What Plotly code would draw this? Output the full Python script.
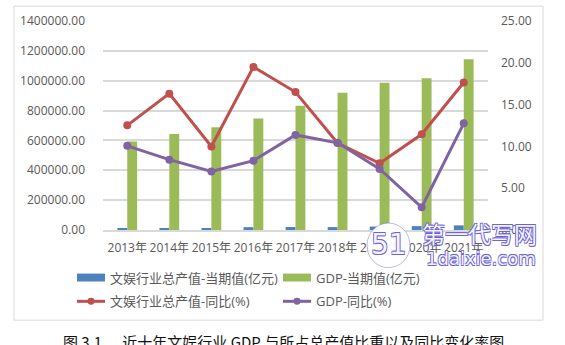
import plotly.graph_objects as go

# Annual figures, 2013-2021
years = ["2013", "2014", "2015", "2016", "2017", "2018", "2019", "2020", "2021"]
year_labels = [y + "年" for y in years]
ent_output = [11600, 12500, 13400, 19000, 20000, 19500, 23000, 26000, 31000]          # 文娱行业总产值 (亿元)
gdp_output = [592963, 643563, 688858, 746395, 832036, 919281, 986515, 1015986, 1143670]  # GDP (亿元)
ent_yoy = [12.52, 16.31, 9.99, 19.51, 16.50, 10.40, 7.98, 11.45, 17.65]                 # 同比 (%)
gdp_yoy = [10.07, 8.41, 6.99, 8.29, 11.37, 10.43, 7.31, 2.72, 12.76]                  # 同比 (%)

names = ["文娱行业总产值-当期值(亿元)", "GDP-当期值(亿元)",
         "文娱行业总产值-同比(%)", "GDP-同比(%)"]
colors = ["#4F81BD", "#9BBB59", "#C0504D", "#8064A2"]

W, H = 565, 345
L, R, T, B = 103, 488, 19, 230  # plot area in pixels


def px(x):
    return (x - L) / (R - L)


def py(y):
    return 1 - (y - T) / (B - T)


FONT = "Open Sans, Noto Sans CJK SC, sans-serif"
GREY = "#595959"

fig = go.Figure()
fig.add_trace(go.Bar(x=year_labels, y=ent_output, name=names[0],
                     marker=dict(color=colors[0], line_width=0)))
fig.add_trace(go.Bar(x=year_labels, y=gdp_output, name=names[1],
                     marker=dict(color=colors[1], line_width=0)))
fig.add_trace(go.Scatter(x=year_labels, y=ent_yoy, name=names[2], yaxis="y2",
                         mode="lines+markers", cliponaxis=False,
                         line=dict(color=colors[2], width=3),
                         marker=dict(color=colors[2], size=8)))
fig.add_trace(go.Scatter(x=year_labels, y=gdp_yoy, name=names[3], yaxis="y2",
                         mode="lines+markers", cliponaxis=False,
                         line=dict(color=colors[3], width=3),
                         marker=dict(color=colors[3], size=8)))

shapes = []
annotations = []

# outer chart frame
shapes.append(dict(type="rect", xref="paper", yref="paper",
                   x0=px(14), x1=px(543), y0=py(321), y1=py(4),
                   line=dict(color="#D9D9D9", width=1), layer="below"))

# legend, two columns by two rows
legend_pos = [(77, 278), (283, 278), (77, 302), (283, 302)]
for i, (lx, ly) in enumerate(legend_pos):
    if i < 2:
        shapes.append(dict(type="rect", xref="paper", yref="paper",
                           x0=px(lx), x1=px(lx + 28), y0=py(ly + 4), y1=py(ly - 4),
                           fillcolor=colors[i], line_width=0))
    else:
        shapes.append(dict(type="line", xref="paper", yref="paper",
                           x0=px(lx), x1=px(lx + 28), y0=py(ly), y1=py(ly),
                           line=dict(color=colors[i], width=3)))
        shapes.append(dict(type="circle", xref="paper", yref="paper",
                           x0=px(lx + 10.5), x1=px(lx + 17.5),
                           y0=py(ly + 3.5), y1=py(ly - 3.5),
                           fillcolor=colors[i], line_width=0))
    annotations.append(dict(text=names[i], xref="paper", yref="paper",
                            x=px(lx + 31), y=py(ly), xanchor="left", yanchor="middle",
                            showarrow=False, font=dict(family=FONT, size=13, color=GREY)))

# caption below the chart frame
annotations.append(dict(text="图 3.1      近十年文娱行业 GDP 与所占总产值比重以及同比变化率图",
                        xref="paper", yref="paper", x=px(283), y=py(330),
                        xanchor="center", yanchor="top", showarrow=False,
                        font=dict(family="Noto Sans CJK SC, serif", size=15, color="#111111")))

# site watermark (hollow outlined lettering)
WM = "#6B63D6"
d = "0.7px"
outline = ", ".join("%s%s %s%s 0 %s" % (sx, d, sy, d, WM)
                    for sx in ("-", "") for sy in ("-", ""))
FILL = "#F4F3FF"
shapes.append(dict(type="circle", xref="paper", yref="paper",
                   x0=px(367), x1=px(410), y0=py(268), y1=py(223),
                   fillcolor="rgba(255,255,255,0.95)",
                   line=dict(color="rgba(107,99,214,0.45)", width=1)))
annotations.append(dict(text="51", xref="paper", yref="paper",
                        x=px(389), y=py(245), xanchor="center", yanchor="middle",
                        showarrow=False,
                        font=dict(family="DejaVu Sans", size=28, color=FILL,
                                  shadow=outline)))
annotations.append(dict(text="第一代写网", xref="paper", yref="paper",
                        x=px(420), y=py(233), xanchor="left", yanchor="middle",
                        showarrow=False,
                        font=dict(family="Noto Sans CJK SC", size=23, color=FILL,
                                  shadow=outline)))
annotations.append(dict(text="1daixie.com", xref="paper", yref="paper",
                        x=px(424), y=py(259), xanchor="left", yanchor="middle",
                        showarrow=False,
                        font=dict(family="DejaVu Sans", size=18, color=FILL,
                                  shadow=outline)))

fig.update_layout(
    width=W, height=H,
    margin=dict(l=L, r=W - R, t=T, b=H - B, pad=0),
    paper_bgcolor="white", plot_bgcolor="white",
    barmode="group", bargap=0.53, bargroupgap=0,
    showlegend=False,
    font=dict(family=FONT, size=12, color=GREY),
    xaxis=dict(type="category", showgrid=False, showline=True,
               linecolor="#D9D9D9", linewidth=1.5, ticks="",
               tickfont=dict(family=FONT, size=12, color=GREY), ticklabelstandoff=6),
    yaxis=dict(range=[0, 1400000], dtick=200000, tickformat=".2f",
               showgrid=True, gridcolor="#D9D9D9", gridwidth=1.5,
               zeroline=False, showline=False, ticks="",
               ticklabelstandoff=17,
               tickfont=dict(family=FONT, size=12, color=GREY)),
    yaxis2=dict(range=[0, 25], dtick=5, tickformat=".2f", overlaying="y",
                side="right", showgrid=False, zeroline=False, showline=False,
                ticks="", ticklabelstandoff=12,
                tickfont=dict(family=FONT, size=12, color=GREY)),
    shapes=shapes,
    annotations=annotations,
)

fig.write_html("out.html")
